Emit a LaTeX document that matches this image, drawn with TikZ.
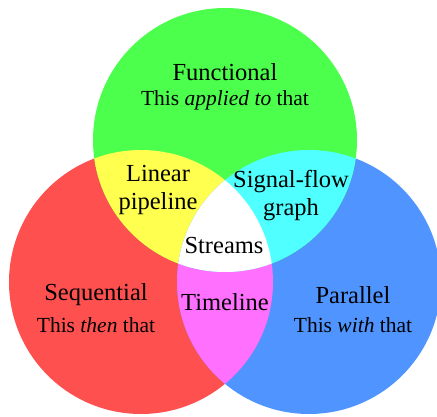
\documentclass[tikz,border=0pt]{standalone}
\usepackage{fontspec}
\setmainfont{Liberation Serif}
\definecolor{setred}{RGB}{255,80,80}
\definecolor{setgreen}{RGB}{76,255,76}
\definecolor{setblue}{RGB}{79,148,255}
\definecolor{setyellow}{RGB}{255,255,80}
\definecolor{setcyan}{RGB}{80,255,255}
\definecolor{setmagenta}{RGB}{255,112,255}
\begin{document}
\begin{tikzpicture}[x=1pt, y=1pt,
		title/.style={font=\fontsize{24.5}{28}\selectfont, align=center, inner sep=0pt},
		motto/.style={font=\fontsize{21.5}{24}\selectfont, inner sep=0pt}]
	\useasboundingbox (0,0) rectangle (437,416);
	\def\rad{132pt}
	\coordinate (F) at (225,276);
	\coordinate (S) at (141,134);
	\coordinate (P) at (309,134);
	\fill[setred] (S) circle (\rad);
	\fill[setblue] (P) circle (\rad);
	\fill[setgreen] (F) circle (\rad);
	\begin{scope}
		\clip (S) circle (\rad);
		\fill[setyellow] (F) circle (\rad);
		\fill[setmagenta] (P) circle (\rad);
	\end{scope}
	\begin{scope}
		\clip (P) circle (\rad);
		\fill[setcyan] (F) circle (\rad);
	\end{scope}
	\begin{scope}
		\clip (S) circle (\rad);
		\clip (P) circle (\rad);
		\fill[white] (F) circle (\rad);
	\end{scope}
	\node[title] (functional) at (225,344) {Functional};
	\node[motto] (functionalmotto) at (225,316) {This \textit{applied to} that};
	\node[title] (sequential) at (96,121) {Sequential};
	\node[motto] (sequentialmotto) at (96,91) {This \textit{then} that};
	\node[title] (parallel) at (353,121) {Parallel};
	\node[motto] (parallelmotto) at (353,91) {This \textit{with} that};
	\node[title] (pipeline) at (158,226) {Linear\\pipeline};
	\node[title] (signalflow) at (291,220) {Signal-flow\\graph};
	\node[title] (streams) at (224,170) {Streams};
	\node[title] (timeline) at (225,114) {Timeline};
\end{tikzpicture}
\end{document}
